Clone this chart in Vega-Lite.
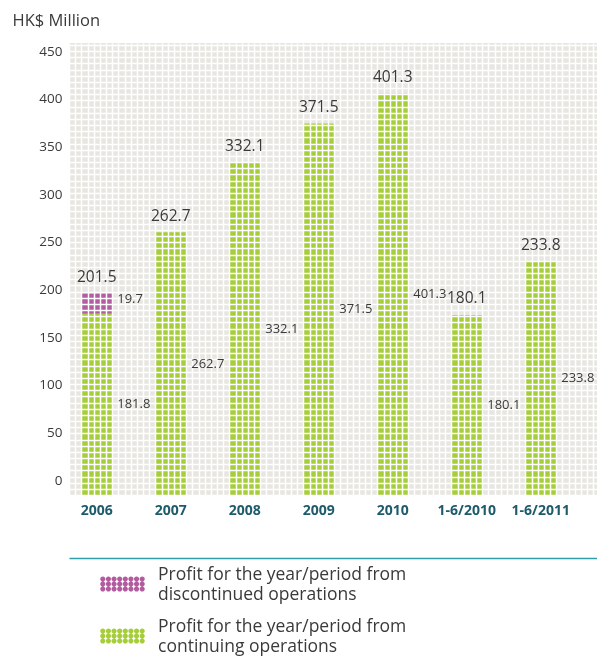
{
  "$schema": "https://vega.github.io/schema/vega-lite/v6.json",
  "width": 528,
  "height": 452,
  "autosize": {"type": "none"},
  "padding": {"left": 69, "top": 43, "right": 0, "bottom": 163},
  "background": "white",
  "view": {"fill": "#e7e6e1", "stroke": null},
  "config": {
    "font": "Open Sans",
    "style": {"guide-label": {"lineHeight": 20.5}}
  },
  "data": {
    "values": [
      {"period": "2006", "continuing": 181.8, "discontinued": 19.7, "total": 201.5},
      {"period": "2007", "continuing": 262.7, "total": 262.7},
      {"period": "2008", "continuing": 332.1, "total": 332.1},
      {"period": "2009", "continuing": 371.5, "total": 371.5},
      {"period": "2010", "continuing": 401.3, "total": 401.3},
      {"period": "1-6/2010", "continuing": 180.1, "total": 180.1},
      {"period": "1-6/2011", "continuing": 233.8, "total": 233.8}
    ]
  },
  "resolve": {"scale": {"x": "independent", "y": "independent"}},
  "layer": [
    {
      "encoding": {
        "x": {
          "field": "period",
          "type": "nominal",
          "sort": null,
          "scale": {
            "type": "band",
            "domain": ["2006", "2007", "2008", "2009", "2010", "1-6/2010", "1-6/2011"],
            "paddingInner": 0.58333,
            "paddingOuter": 0.35923,
            "align": 0.23197
          },
          "axis": {
            "orient": "bottom",
            "title": null,
            "offset": 63,
            "ticks": false,
            "domain": true,
            "domainColor": "#2e9fa8",
            "domainWidth": 1.5,
            "labelPadding": -55,
            "labelAngle": 0,
            "labelFontSize": 14,
            "labelFontWeight": "bold",
            "labelColor": "#1d5b6b",
            "labelBaseline": "top",
            "grid": false
          }
        }
      },
      "layer": [
        {
          "mark": {"type": "bar", "blend": "color-burn", "color": "#458227"},
          "encoding": {
            "y": {"field": "continuing", "type": "quantitative", "scale": {"domain": [0, 452], "nice": false}, "axis": null}
          }
        },
        {
          "transform": [{"filter": "datum.discontinued > 0"}],
          "mark": {"type": "bar", "blend": "color-burn", "color": "#522751"},
          "encoding": {
            "y": {"field": "continuing", "type": "quantitative", "scale": {"domain": [0, 452], "nice": false}, "axis": null},
            "y2": {"field": "total"}
          }
        },
        {
          "mark": {"type": "text", "baseline": "middle", "dy": -16.5, "fontSize": 15.5, "color": "#3a3a3a"},
          "encoding": {
            "y": {"field": "total", "type": "quantitative", "scale": {"domain": [0, 452], "nice": false}, "axis": null},
            "text": {"field": "total", "type": "quantitative", "format": ".1f"}
          }
        },
        {
          "transform": [{"filter": "datum.discontinued > 0"}],
          "mark": {"type": "text", "align": "left", "baseline": "top", "dx": 20.5, "dy": -1, "fontSize": 13, "color": "#3a3a3a"},
          "encoding": {
            "y": {"field": "total", "type": "quantitative", "scale": {"domain": [0, 452], "nice": false}, "axis": null},
            "text": {"field": "discontinued", "type": "quantitative", "format": ".1f"}
          }
        }
      ]
    },
    {
      "mark": {"type": "text", "align": "left", "baseline": "middle", "dx": 20.5, "fontSize": 13, "color": "#3a3a3a"},
      "encoding": {
        "x": {
          "field": "period",
          "type": "nominal",
          "sort": null,
          "scale": {
            "type": "band",
            "domain": ["2006", "2007", "2008", "2009", "2010", "1-6/2010", "1-6/2011"],
            "paddingInner": 0.58333,
            "paddingOuter": 0.35923,
            "align": 0.23197
          },
          "axis": null
        },
        "y": {"field": "continuing", "type": "quantitative", "scale": {"domain": [0, 904], "nice": false}, "axis": null},
        "text": {"field": "continuing", "type": "quantitative", "format": ".1f"}
      }
    },
    {
      "mark": {"type": "point", "opacity": 0, "filled": true},
      "encoding": {
        "x": {
          "field": "total",
          "type": "quantitative",
          "scale": {"domain": [0, 85.62], "nice": false, "zero": false},
          "axis": {"orient": "top", "grid": true, "gridColor": "#ffffff", "gridWidth": 1.5, "gridOpacity": 1, "tickCount": 100, "labels": false, "ticks": false, "domain": false, "title": null, "zindex": 0}
        },
        "y": {
          "field": "total",
          "type": "quantitative",
          "scale": {"domain": [0, 73.3], "nice": false, "zero": false},
          "axis": {"orient": "right", "grid": true, "gridColor": "#ffffff", "gridWidth": 1.5, "gridOpacity": 1, "tickCount": 100, "labels": false, "ticks": false, "domain": false, "title": null, "zindex": 0}
        },
        "color": {
          "datum": "Profit for the year/period from|continuing operations",
          "scale": {
            "domain": ["Profit for the year/period from|discontinued operations", "Profit for the year/period from|continuing operations"],
            "range": ["#b35b9f", "#a6ce39"]
          },
          "legend": {
            "orient": "none",
            "legendX": 31,
            "legendY": 509,
            "title": null,
            "symbolType": "M-0.99,0.2a0.115,0.115 0 1,0 0.23,0a0.115,0.115 0 1,0 -0.23,0M-0.74,0.2a0.115,0.115 0 1,0 0.23,0a0.115,0.115 0 1,0 -0.23,0M-0.49,0.2a0.115,0.115 0 1,0 0.23,0a0.115,0.115 0 1,0 -0.23,0M-0.24,0.2a0.115,0.115 0 1,0 0.23,0a0.115,0.115 0 1,0 -0.23,0M0.01,0.2a0.115,0.115 0 1,0 0.23,0a0.115,0.115 0 1,0 -0.23,0M0.26,0.2a0.115,0.115 0 1,0 0.23,0a0.115,0.115 0 1,0 -0.23,0M0.51,0.2a0.115,0.115 0 1,0 0.23,0a0.115,0.115 0 1,0 -0.23,0M0.76,0.2a0.115,0.115 0 1,0 0.23,0a0.115,0.115 0 1,0 -0.23,0M-0.99,0.422a0.115,0.115 0 1,0 0.23,0a0.115,0.115 0 1,0 -0.23,0M-0.74,0.422a0.115,0.115 0 1,0 0.23,0a0.115,0.115 0 1,0 -0.23,0M-0.49,0.422a0.115,0.115 0 1,0 0.23,0a0.115,0.115 0 1,0 -0.23,0M-0.24,0.422a0.115,0.115 0 1,0 0.23,0a0.115,0.115 0 1,0 -0.23,0M0.01,0.422a0.115,0.115 0 1,0 0.23,0a0.115,0.115 0 1,0 -0.23,0M0.26,0.422a0.115,0.115 0 1,0 0.23,0a0.115,0.115 0 1,0 -0.23,0M0.51,0.422a0.115,0.115 0 1,0 0.23,0a0.115,0.115 0 1,0 -0.23,0M0.76,0.422a0.115,0.115 0 1,0 0.23,0a0.115,0.115 0 1,0 -0.23,0M-0.99,0.644a0.115,0.115 0 1,0 0.23,0a0.115,0.115 0 1,0 -0.23,0M-0.74,0.644a0.115,0.115 0 1,0 0.23,0a0.115,0.115 0 1,0 -0.23,0M-0.49,0.644a0.115,0.115 0 1,0 0.23,0a0.115,0.115 0 1,0 -0.23,0M-0.24,0.644a0.115,0.115 0 1,0 0.23,0a0.115,0.115 0 1,0 -0.23,0M0.01,0.644a0.115,0.115 0 1,0 0.23,0a0.115,0.115 0 1,0 -0.23,0M0.26,0.644a0.115,0.115 0 1,0 0.23,0a0.115,0.115 0 1,0 -0.23,0M0.51,0.644a0.115,0.115 0 1,0 0.23,0a0.115,0.115 0 1,0 -0.23,0M0.76,0.644a0.115,0.115 0 1,0 0.23,0a0.115,0.115 0 1,0 -0.23,0",
            "symbolSize": 2025,
            "symbolStrokeWidth": 0,
            "symbolOpacity": 1,
            "labelFontSize": 17.5,
            "labelColor": "#3a3a3a",
            "labelOffset": 13,
            "labelLimit": 0,
            "rowPadding": 0,
            "labelExpr": "split(datum.label, '|')"
          }
        }
      }
    },
    {
      "mark": {"type": "point", "opacity": 0, "filled": true},
      "encoding": {
        "y": {
          "field": "total",
          "type": "quantitative",
          "scale": {"domain": [-15.73, 458.4], "nice": false, "zero": false},
          "axis": {
            "orient": "left",
            "values": [0, 50, 100, 150, 200, 250, 300, 350, 400, 450],
            "grid": false,
            "domain": false,
            "ticks": false,
            "labelPadding": 7,
            "labelFontSize": 13.5,
            "labelColor": "#3a3a3a",
            "title": "HK$ Million",
            "titleAngle": 0,
            "titleX": -57,
            "titleY": -23,
            "titleAlign": "left",
            "titleBaseline": "middle",
            "titleFontSize": 16.5,
            "titleFontWeight": "normal",
            "titleColor": "#3a3a3a"
          }
        },
        "color": {"datum": "Profit for the year/period from|discontinued operations"}
      }
    }
  ]
}
